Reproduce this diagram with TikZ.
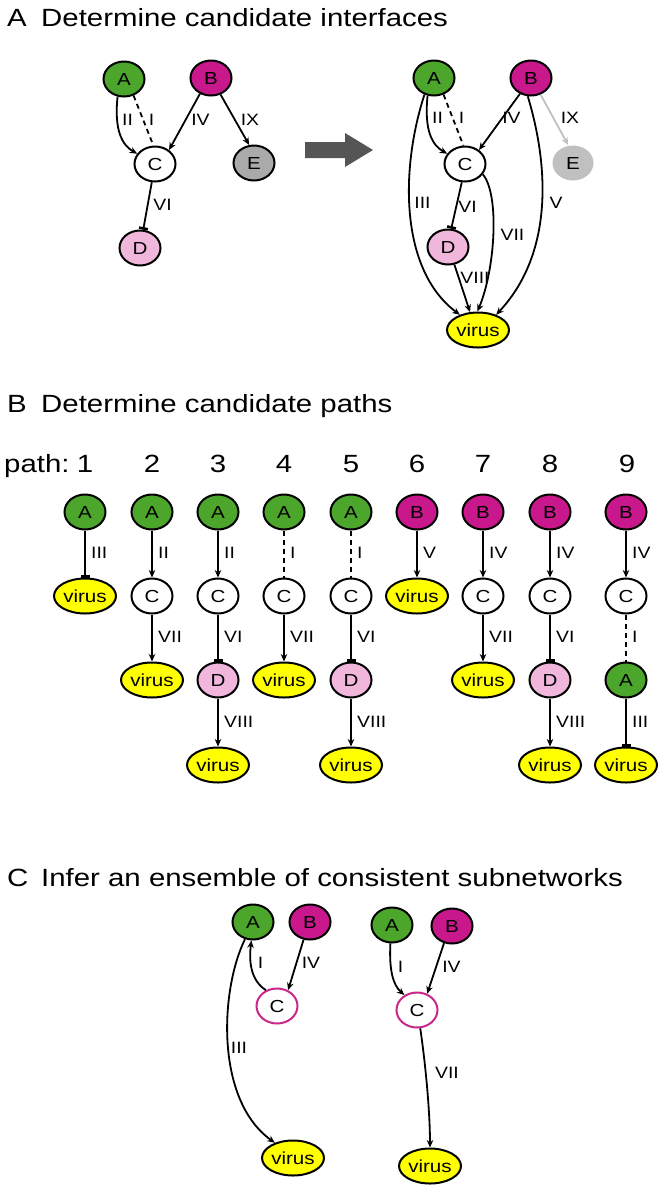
\documentclass[tikz,border=0pt]{standalone}
\usepackage{fontspec}
\setmainfont{Liberation Sans}[FakeStretch=1.18]
\usetikzlibrary{arrows.meta,shapes.geometric}
\definecolor{cA}{RGB}{76,166,44}
\definecolor{cB}{RGB}{200,24,140}
\definecolor{cD}{RGB}{240,182,220}
\definecolor{cE}{RGB}{170,170,170}
\definecolor{cEl}{RGB}{192,192,192}
\definecolor{cV}{RGB}{255,255,0}
\definecolor{cArrow}{RGB}{85,85,85}
\definecolor{cRing}{RGB}{200,40,140}
\begin{document}
\begin{tikzpicture}[x=1bp,y=-1bp,
  nd/.style={ellipse, draw=black, line width=2bp, minimum width=41bp, minimum height=35bp, inner sep=0pt, font=\fontsize{17.5}{17.5}\selectfont},
  vir/.style={nd, fill=cV, minimum width=62bp},
  arr/.style={line width=1.8bp, -{Stealth[length=7.5bp,width=6.5bp]}},
  tee/.style={line width=1.8bp, -{Bar[width=9bp,line width=2.6bp]}},
  und/.style={line width=1.8bp, dash pattern=on 5bp off 4bp},
  lab/.style={font=\fontsize{16.5}{16.5}\selectfont, inner sep=0pt},
  labw/.style={lab, anchor=west},
  ttl/.style={font=\fontsize{25}{25}\selectfont, inner sep=0pt, anchor=base west},
  num/.style={font=\fontsize{25}{25}\selectfont, inner sep=0pt, anchor=base}]
\useasboundingbox (0,0) rectangle (665,1187);

% ---------- titles ----------
\node[ttl] (tA) at (7,26) {A};
\node[ttl] (tAt) at (41,26) {Determine candidate interfaces};
\node[ttl] (tB) at (7,412) {B};
\node[ttl] (tBt) at (41,412) {Determine candidate paths};
\node[ttl] (tC) at (7,886) {C};
\node[ttl] (tCt) at (41,886) {Infer an ensemble of consistent subnetworks};

% ---------- panel A left ----------
\node[nd, fill=cA] (aA) at (124,79) {A};
\node[nd, fill=cB] (aB) at (211,78) {B};
\node[nd, fill=white] (aC) at (155,164) {C};
\node[nd, fill=cE] (aE) at (254,163) {E};
\node[nd, fill=cD] (aD) at (140,248) {D};
\draw[arr] (aA.250) .. controls (114,130) and (122,145) .. (aC.150);
\draw[und] (aA.-60) -- (aC.95);
\draw[arr] (aB.235) -- (aC.45);
\draw[arr] (aB.-60) -- (aE.105);
\draw[tee] (aC.-100) -- (aD.80);
\node[lab] (laII) at (127.5,120) {II};
\node[lab] (laI) at (151.5,120) {I};
\node[lab] (laIV) at (200.5,120) {IV};
\node[lab] (laIX) at (250,120) {IX};
\node[lab] (laVI) at (162.5,205) {VI};

% ---------- big arrow ----------
\fill[cArrow] (305,142) -- (345,142) -- (345,133) -- (373,150) -- (345,167) -- (345,158) -- (305,158) -- cycle;

% ---------- panel A right ----------
\node[nd, fill=cA] (bA) at (434,78) {A};
\node[nd, fill=cB] (bB) at (531,78) {B};
\node[nd, fill=white] (bC) at (465,164) {C};
\node[nd, draw=none, fill=cEl] (bE) at (573,163) {E};
\node[nd, fill=cD] (bD) at (448,247) {D};
\node[vir] (bV) at (478,330) {virus};
\draw[arr] (bA.250) .. controls (424,130) and (432,145) .. (bC.150);
\draw[und] (bA.-60) -- (bC.95);
\draw[arr] (bB.235) -- (bC.45);
\draw[arr, draw=cEl] (bB.-60) -- (bE.105);
\draw[arr] (bA.240) .. controls (400,170) and (400,270) .. (bV.140);
\draw[arr] (bB.260) .. controls (550,170) and (552,255) .. (bV.40);
\draw[arr] (bC.-30) .. controls (500,195) and (495,270) .. (bV.92);
\draw[tee] (bC.-100) -- (bD.80);
\draw[arr] (bD.-70) -- (bV.114);
\node[lab] (lbII) at (437.5,118) {II};
\node[lab] (lbI) at (461.5,118) {I};
\node[lab] (lbIV) at (511.5,118) {IV};
\node[lab] (lbIX) at (570,118) {IX};
\node[lab] (lbIII) at (422.5,203) {III};
\node[lab] (lbVI) at (467.5,207) {VI};
\node[lab] (lbVII) at (512.5,235) {VII};
\node[lab] (lbV) at (556,203) {V};
\node[lab] (lbVIII) at (475,278) {VIII};

% ---------- panel B ----------
\node[num, anchor=base west] (pth) at (4,472) {path:};
\node[num] (n1) at (85,472) {1};
\node[num] (n2) at (152,472) {2};
\node[num] (n3) at (218,472) {3};
\node[num] (n4) at (284,472) {4};
\node[num] (n5) at (351,472) {5};
\node[num] (n6) at (417,472) {6};
\node[num] (n7) at (483,472) {7};
\node[num] (n8) at (550,472) {8};
\node[num] (n9) at (627,472) {9};

% path 1
\node[nd, fill=cA] (p1a) at (85,512) {A};
\node[vir] (p1b) at (85,596) {virus};
\draw[tee] (p1a) -- (p1b);
\node[labw] (l1a) at (91,553) {III};
% path 2
\node[nd, fill=cA] (p2a) at (152,512) {A};
\node[nd, fill=white] (p2b) at (152,596) {C};
\node[vir] (p2c) at (152,680) {virus};
\draw[arr] (p2a) -- (p2b);
\draw[arr] (p2b) -- (p2c);
\node[labw] (l2a) at (158,553) {II};
\node[labw] (l2b) at (158,637) {VII};
% path 3
\node[nd, fill=cA] (p3a) at (218,512) {A};
\node[nd, fill=white] (p3b) at (218,596) {C};
\node[nd, fill=cD] (p3c) at (218,680) {D};
\node[vir] (p3d) at (218,765) {virus};
\draw[arr] (p3a) -- (p3b);
\draw[tee] (p3b) -- (p3c);
\draw[arr] (p3c) -- (p3d);
\node[labw] (l3a) at (224,553) {II};
\node[labw] (l3b) at (224,637) {VI};
\node[labw] (l3c) at (224,722) {VIII};
% path 4
\node[nd, fill=cA] (p4a) at (284,512) {A};
\node[nd, fill=white] (p4b) at (284,596) {C};
\node[vir] (p4c) at (284,680) {virus};
\draw[und] (p4a) -- (p4b);
\draw[arr] (p4b) -- (p4c);
\node[labw] (l4a) at (290,553) {I};
\node[labw] (l4b) at (290,637) {VII};
% path 5
\node[nd, fill=cA] (p5a) at (351,512) {A};
\node[nd, fill=white] (p5b) at (351,596) {C};
\node[nd, fill=cD] (p5c) at (351,680) {D};
\node[vir] (p5d) at (351,765) {virus};
\draw[und] (p5a) -- (p5b);
\draw[tee] (p5b) -- (p5c);
\draw[arr] (p5c) -- (p5d);
\node[labw] (l5a) at (357,553) {I};
\node[labw] (l5b) at (357,637) {VI};
\node[labw] (l5c) at (357,722) {VIII};
% path 6
\node[nd, fill=cB] (p6a) at (417,512) {B};
\node[vir] (p6b) at (417,596) {virus};
\draw[arr] (p6a) -- (p6b);
\node[labw] (l6a) at (423,553) {V};
% path 7
\node[nd, fill=cB] (p7a) at (483,512) {B};
\node[nd, fill=white] (p7b) at (483,596) {C};
\node[vir] (p7c) at (483,680) {virus};
\draw[arr] (p7a) -- (p7b);
\draw[arr] (p7b) -- (p7c);
\node[labw] (l7a) at (489,553) {IV};
\node[labw] (l7b) at (489,637) {VII};
% path 8
\node[nd, fill=cB] (p8a) at (550,512) {B};
\node[nd, fill=white] (p8b) at (550,596) {C};
\node[nd, fill=cD] (p8c) at (550,680) {D};
\node[vir] (p8d) at (550,765) {virus};
\draw[arr] (p8a) -- (p8b);
\draw[tee] (p8b) -- (p8c);
\draw[arr] (p8c) -- (p8d);
\node[labw] (l8a) at (556,553) {IV};
\node[labw] (l8b) at (556,637) {VI};
\node[labw] (l8c) at (556,722) {VIII};
% path 9
\node[nd, fill=cB] (p9a) at (626,512) {B};
\node[nd, fill=white] (p9b) at (626,596) {C};
\node[nd, fill=cA] (p9c) at (626,680) {A};
\node[vir] (p9d) at (626,765) {virus};
\draw[arr] (p9a) -- (p9b);
\draw[und] (p9b) -- (p9c);
\draw[tee] (p9c) -- (p9d);
\node[labw] (l9a) at (632,553) {IV};
\node[labw] (l9b) at (632,637) {I};
\node[labw] (l9c) at (632,722) {III};

% ---------- panel C left ----------
\node[nd, fill=cA] (cA1) at (253,922) {A};
\node[nd, fill=cB] (cB1) at (310,922) {B};
\node[nd, fill=white, draw=cRing] (cC1) at (277,1006) {C};
\node[vir] (cV1) at (293,1158) {virus};
\draw[arr] (cC1.125) .. controls (250,980) and (249,960) .. (cA1.265);
\draw[arr] (cB1.250) -- (cC1.55);
\draw[arr] (cA1.245) .. controls (220,990) and (215,1100) .. (cV1.140);
\node[lab] (lcI) at (260.5,963) {I};
\node[lab] (lcIV) at (311,963) {IV};
\node[lab] (lcIII) at (239,1048) {III};

% ---------- panel C right ----------
\node[nd, fill=cA] (cA2) at (392,925) {A};
\node[nd, fill=cB] (cB2) at (452,926) {B};
\node[nd, fill=white, draw=cRing] (cC2) at (417,1010) {C};
\node[vir] (cV2) at (430,1166) {virus};
\draw[arr] (cA2.265) .. controls (389,970) and (393,985) .. (cC2.130);
\draw[arr] (cB2.245) -- (cC2.58);
\draw[arr] (cC2.-80) .. controls (425,1060) and (430,1110) .. (cV2.north);
\node[lab] (ldI) at (400.5,967) {I};
\node[lab] (ldIV) at (451.5,967) {IV};
\node[lab] (ldVII) at (447,1073) {VII};
\end{tikzpicture}
\end{document}
